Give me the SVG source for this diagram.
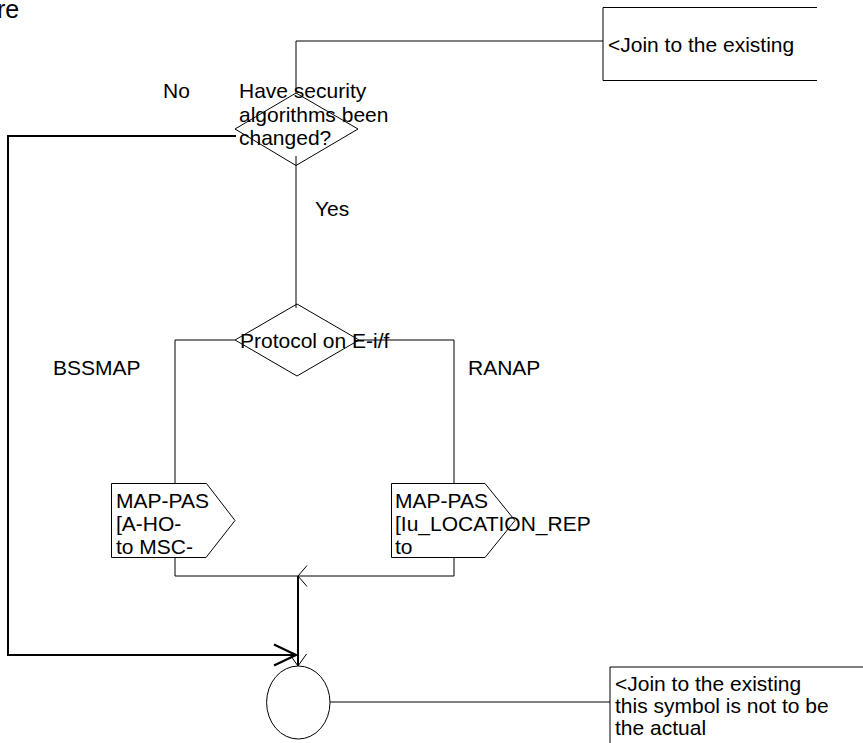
<svg xmlns="http://www.w3.org/2000/svg" width="863" height="743" viewBox="0 0 863 743">
<style>
  text { font-family: "Liberation Sans", Arial, sans-serif; font-size: 21px; fill: #000; }
  .thin { fill: none; stroke: #000; stroke-width: 1; }
  .shape { fill: #fff; stroke: #000; stroke-width: 1; }
  .thick { fill: none; stroke: #000; stroke-width: 2; }
</style>
<defs>
  <marker id="arrS" markerUnits="userSpaceOnUse" markerWidth="30" markerHeight="30" refX="0" refY="0" orient="auto" overflow="visible">
    <path d="M-9,-10.5 L0,0 L-9,10.5" fill="none" stroke="#000" stroke-width="1"/>
  </marker>
  <marker id="arrD" markerUnits="userSpaceOnUse" markerWidth="30" markerHeight="30" refX="0" refY="0" orient="auto" overflow="visible">
    <path d="M-12,-8.5 L0,0 L-12,8.5" fill="none" stroke="#000" stroke-width="1"/>
  </marker>
  <marker id="arrB" markerUnits="userSpaceOnUse" markerWidth="40" markerHeight="40" refX="0" refY="0" orient="auto" overflow="visible">
    <path d="M-22,-10.5 L0,0 L-22,10.5" fill="none" stroke="#000" stroke-width="2.2"/>
  </marker>
</defs>
<rect width="863" height="743" fill="#fff"/>

<text x="-3" y="18" style="font-size:25px">re</text>

<g id="connectors">
  <path class="thin" d="M603,41 H296 V93"/>
  <path class="thin" d="M296,156 V308"/>
  <path class="thin" d="M235,340 H175 V483"/>
  <path class="thin" d="M359,340 H454 V483"/>
  <path class="thin" d="M175,557 V576 H298"/>
  <path class="thin" d="M454,557 V576 H298" marker-end="url(#arrS)"/>
  <path class="thick" d="M298,576 V666" marker-end="url(#arrD)"/>
  <path class="thick" d="M236,136 H8 V655 H296" marker-end="url(#arrB)"/>
  <path class="thin" d="M330,702 H610"/>
</g>

<g id="comment_top">
  <path class="thin" d="M817,7.5 H603 V80.5 H817"/>
  <text x="608" y="52">&lt;Join to the existing</text>
</g>

<g id="decision_security">
  <polygon class="thin" points="296,93 358,129 296,165.5 235,129"/>
  <text x="239" y="98">Have security</text>
  <text x="239" y="121.5">algorithms been</text>
  <text x="239" y="145">changed?</text>
</g>

<g id="label_no"><text x="163" y="98">No</text></g>
<g id="label_yes"><text x="315" y="216">Yes</text></g>

<g id="decision_protocol">
  <polygon class="thin" points="297,304 359,340 297,376 235,340"/>
  <text x="240" y="348">Protocol on E-i/f</text>
</g>

<g id="label_bssmap"><text x="53" y="375">BSSMAP</text></g>
<g id="label_ranap"><text x="468" y="375">RANAP</text></g>

<g id="signal_bssmap">
  <polygon class="shape" points="111.5,483.5 206.5,483.5 235,520.5 206,557.5 111.5,557.5"/>
  <text x="116" y="508">MAP-PAS</text>
  <text x="116" y="531">[A-HO-</text>
  <text x="116" y="554">to MSC-</text>
</g>

<g id="signal_ranap">
  <polygon class="shape" points="391.5,483.5 485,483.5 515,520.5 485,557.5 391.5,557.5"/>
  <text x="395" y="508">MAP-PAS</text>
  <text x="395" y="531">[Iu_LOCATION_REP</text>
  <text x="395" y="554">to</text>
</g>

<g id="connector_circle">
  <ellipse class="thin" cx="298.3" cy="702.5" rx="31.7" ry="36.5"/>
</g>

<g id="comment_bottom">
  <path class="thin" d="M863,667 H610 V743"/>
  <text x="615" y="691">&lt;Join to the existing</text>
  <text x="615" y="713">this symbol is not to be</text>
  <text x="615" y="735">the actual</text>
</g>
</svg>
